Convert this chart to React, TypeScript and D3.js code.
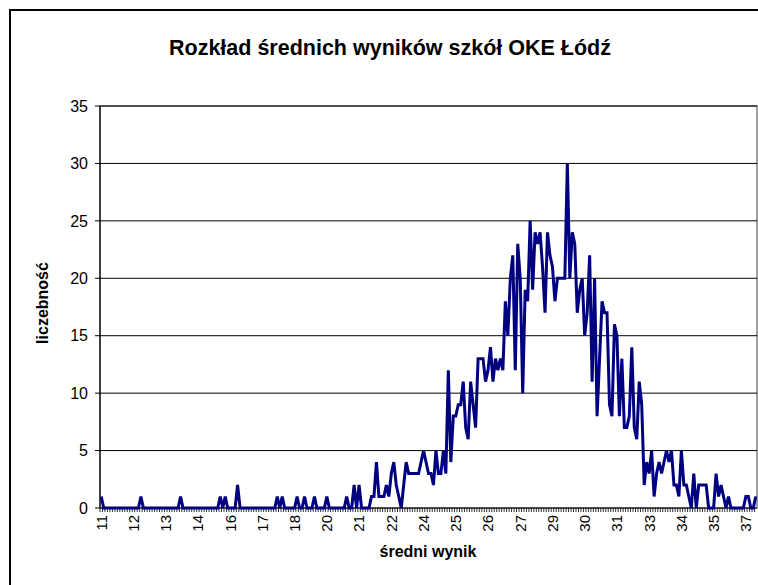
import React from 'react';
import * as d3 from 'd3';

// Category scores 11.0 .. 37.4 (step 0.1)
const categories: string[] = d3.range(110, 375).map((v) => (v / 10).toFixed(1));

// Number of schools for each mean score
const counts: number[] = [
  1, 0, 0, 0, 0, 0, 0, 0, 0, 0,
  0, 0, 0, 0, 0, 0, 1, 0, 0, 0,
  0, 0, 0, 0, 0, 0, 0, 0, 0, 0,
  0, 0, 1, 0, 0, 0, 0, 0, 0, 0,
  0, 0, 0, 0, 0, 0, 0, 0, 1, 0,
  1, 0, 0, 0, 0, 2, 0, 0, 0, 0,
  0, 0, 0, 0, 0, 0, 0, 0, 0, 0,
  0, 1, 0, 1, 0, 0, 0, 0, 0, 1,
  0, 0, 1, 0, 0, 0, 1, 0, 0, 0,
  0, 1, 0, 0, 0, 0, 0, 0, 0, 1,
  0, 0, 2, 0, 2, 0, 0, 0, 0, 1,
  1, 4, 1, 1, 1, 2, 1, 3, 4, 2,
  1, 0, 2, 4, 3, 3, 3, 3, 3, 4,
  5, 4, 3, 3, 2, 5, 3, 3, 5, 3,
  12, 4, 8, 8, 9, 9, 11, 7, 6, 11,
  9, 7, 13, 13, 13, 11, 12, 14, 11, 13,
  12, 13, 12, 18, 15, 20, 22, 12, 23, 20,
  10, 19, 18, 25, 19, 24, 23, 24, 21, 17,
  24, 22, 21, 18, 20, 20, 20, 20, 30, 20,
  24, 23, 17, 19, 20, 15, 17, 22, 11, 20,
  8, 13, 18, 17, 17, 9, 8, 16, 15, 8,
  13, 7, 7, 8, 14, 7, 6, 11, 9, 2,
  4, 3, 5, 1, 3, 4, 3, 4, 5, 4,
  5, 2, 2, 1, 5, 2, 2, 1, 0, 3,
  0, 2, 2, 2, 2, 0, 0, 0, 3, 1,
  2, 1, 0, 1, 0, 0, 0, 0, 0, 0,
  1, 1, 0, 0, 1,
];

// Tick labels shown on the category axis (every 13th category)
const tickLabels: string[] = [
  '11', '12', '13', '14', '16', '17', '18', '20', '21', '22', '24',
  '25', '26', '27', '29', '30', '31', '33', '34', '35', '37',
];
const labelEvery = 13;
const yTicks: number[] = [0, 5, 10, 15, 20, 25, 30, 35];

const title = 'Rozkład średnich wyników szkół OKE Łódź';
const xTitle = 'średni wynik';
const yTitle = 'liczebność';

const W = 758;
const H = 585;
const plot = { left: 100, right: 757, top: 106, bottom: 508 };
const font = "'Liberation Sans', Arial, sans-serif";

export default function App() {
  const x = d3
    .scaleBand<string>()
    .domain(categories)
    .range([plot.left, plot.right])
    .paddingInner(0)
    .paddingOuter(0);
  const y = d3.scaleLinear().domain([0, 35]).range([plot.bottom, plot.top]);
  const cx = (c: string) => (x(c) as number) + x.bandwidth() / 2;

  const line = d3
    .line<number>()
    .x((_, i) => cx(categories[i]))
    .y((d) => y(d));

  return (
    <svg
      width={W}
      height={H}
      style={{ position: 'absolute', left: 0, top: 0, background: '#fff' }}
      fontFamily={font}
    >
      <rect x={0} y={0} width={W} height={H} fill="#fff" />
      {/* outer chart border */}
      <rect x={10} y={10} width={W + 20} height={H + 20} fill="none" stroke="#000" strokeWidth={2} />

      <text x={390} y={55} textAnchor="middle" fontSize={21.5} fontWeight="bold">
        {title}
      </text>

      {/* plot area */}
      <rect
        x={plot.left}
        y={plot.top}
        width={plot.right - plot.left}
        height={plot.bottom - plot.top}
        fill="#fff"
        stroke="#808080"
        strokeWidth={1.5}
      />

      {/* gridlines + y ticks */}
      {yTicks.map((t) => (
        <g key={t}>
          {t > 0 && (
            <line x1={plot.left} x2={plot.right} y1={y(t)} y2={y(t)} stroke="#000" strokeWidth={1} />
          )}
          <line x1={plot.left - 5} x2={plot.left} y1={y(t)} y2={y(t)} stroke="#000" strokeWidth={1} />
          <text x={plot.left - 12} y={y(t)} dy="0.36em" textAnchor="end" fontSize={16}>
            {t}
          </text>
        </g>
      ))}

      {/* x tick marks at category boundaries */}
      {categories.map((c) => (
        <line
          key={c}
          x1={x(c) as number}
          x2={x(c) as number}
          y1={plot.bottom}
          y2={plot.bottom + 4}
          stroke="#000"
          strokeWidth={0.8}
        />
      ))}

      {/* x tick labels */}
      {tickLabels.map((lab, k) => {
        const c = categories[k * labelEvery];
        return (
          <text
            key={lab}
            transform={`translate(${cx(c)},${plot.bottom + 7}) rotate(-90)`}
            textAnchor="end"
            dy="0.36em"
            fontSize={15}
          >
            {lab}
          </text>
        );
      })}

      {/* axes */}
      <line x1={plot.left} x2={plot.left} y1={plot.top} y2={plot.bottom} stroke="#000" strokeWidth={1.2} />
      <line x1={plot.left} x2={plot.right} y1={plot.bottom} y2={plot.bottom} stroke="#000" strokeWidth={1.2} />

      {/* data line */}
      <path d={line(counts) as string} fill="none" stroke="#000080" strokeWidth={3} strokeLinejoin="miter" strokeMiterlimit={3} />

      {/* axis titles */}
      <text x={428} y={557} textAnchor="middle" fontSize={16} fontWeight="bold">
        {xTitle}
      </text>
      <text transform="translate(48,303) rotate(-90)" textAnchor="middle" fontSize={16} fontWeight="bold">
        {yTitle}
      </text>
    </svg>
  );
}
